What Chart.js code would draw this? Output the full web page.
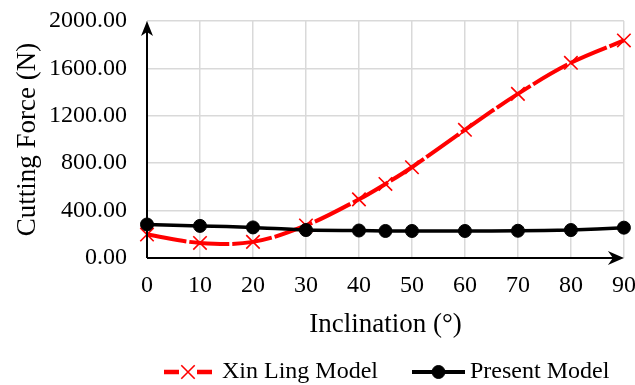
<!DOCTYPE html>
<html>
<head>
<meta charset="utf-8">
<script src="https://cdn.jsdelivr.net/npm/chart.js@4"></script>
<style>
  html, body { margin: 0; padding: 0; background: #ffffff; }
  #wrap { width: 635px; height: 385px; position: relative; }
</style>
</head>
<body>
<div id="wrap"><canvas id="chart"></canvas></div>
<script>
// inclination angles (deg) and cutting force (N)
const inclination = [0, 10, 20, 30, 40, 45, 50, 60, 70, 80, 90];
const xinLingForce = [198, 127, 136, 275, 495, 625, 766, 1082, 1385, 1647, 1836];
const presentForce = [283, 271, 258, 236, 232, 228, 228, 228, 230, 236, 256];

const xTicks = [0, 10, 20, 30, 40, 50, 60, 70, 80, 90];
const yTicks = [0, 400, 800, 1200, 1600, 2000];

const FONT = "'Liberation Serif', 'Times New Roman', serif";

const toPoints = (xs, ys) => xs.map((x, i) => ({ x: x, y: ys[i] }));

// black axis lines with arrow heads at the ends
const arrowAxes = {
  id: 'arrowAxes',
  afterDatasetsDraw(chart) {
    const { ctx, chartArea: a } = chart;
    const x0 = chart.scales.x.getPixelForValue(xTicks[0]);
    const y0 = chart.scales.y.getPixelForValue(yTicks[0]);
    ctx.save();
    ctx.strokeStyle = '#000';
    ctx.fillStyle = '#000';
    ctx.lineWidth = 2;
    ctx.beginPath();
    ctx.moveTo(x0, y0);
    ctx.lineTo(x0, a.top + 8);
    ctx.moveTo(x0, y0);
    ctx.lineTo(a.right - 8, y0);
    ctx.stroke();
    // up arrow
    ctx.beginPath();
    ctx.moveTo(x0, a.top);
    ctx.lineTo(x0 + 6, a.top + 15);
    ctx.lineTo(x0, a.top + 11);
    ctx.lineTo(x0 - 6, a.top + 15);
    ctx.closePath();
    ctx.fill();
    // right arrow
    ctx.beginPath();
    ctx.moveTo(a.right, y0);
    ctx.lineTo(a.right - 16, y0 - 7);
    ctx.lineTo(a.right - 11, y0);
    ctx.lineTo(a.right - 16, y0 + 7);
    ctx.closePath();
    ctx.fill();
    ctx.restore();
  }
};

// legend under the chart: line sample with marker, then the label
const lineLegend = {
  id: 'lineLegend',
  afterDraw(chart) {
    const { ctx } = chart;
    const y = 372;
    const items = [
      { x: 164, w: 48, tx: 222 },
      { x: 412, w: 53, tx: 470 }
    ];
    ctx.save();
    chart.data.datasets.forEach((ds, i) => {
      const it = items[i];
      const cx = it.x + it.w / 2;
      ctx.strokeStyle = ds.borderColor;
      ctx.fillStyle = ds.pointBackgroundColor;
      ctx.lineWidth = ds.borderWidth + 0.5;
      ctx.beginPath();
      if (ds.pointStyle === 'crossRot') {
        ctx.moveTo(it.x, y);
        ctx.lineTo(cx - 9, y);
        ctx.moveTo(cx + 9, y);
        ctx.lineTo(it.x + it.w, y);
      } else {
        ctx.moveTo(it.x, y);
        ctx.lineTo(it.x + it.w, y);
      }
      ctx.stroke();
      ctx.lineWidth = ds.pointBorderWidth;
      Chart.helpers.drawPoint(ctx, {
        pointStyle: ds.pointStyle,
        radius: ds.pointRadius,
        borderWidth: ds.pointBorderWidth
      }, cx, y);
      ctx.fillStyle = '#000';
      ctx.font = '24px ' + FONT;
      ctx.textBaseline = 'middle';
      ctx.textAlign = 'left';
      ctx.fillText(ds.label, it.tx, y);
    });
    ctx.restore();
  }
};

const ctx = document.getElementById('chart').getContext('2d');
new Chart(ctx, {
  type: 'line',
  data: {
    datasets: [
      {
        label: 'Xin Ling Model',
        data: toPoints(inclination, xinLingForce),
        borderColor: '#ff0000',
        backgroundColor: '#ff0000',
        borderWidth: 4,
        borderDash: [40, 3],
        tension: 0.35,
        pointStyle: 'crossRot',
        pointRadius: 9.5,
        pointBorderWidth: 1.6,
        pointBorderColor: '#ff0000',
        pointBackgroundColor: '#ff0000',
        clip: false,
        order: 1
      },
      {
        label: 'Present Model',
        data: toPoints(inclination, presentForce),
        borderColor: '#000000',
        backgroundColor: '#000000',
        borderWidth: 3.5,
        tension: 0.2,
        pointStyle: 'circle',
        pointRadius: 6.5,
        pointBorderWidth: 1,
        pointBorderColor: '#000000',
        pointBackgroundColor: '#000000',
        clip: false,
        order: 0
      }
    ]
  },
  options: {
    responsive: true,
    maintainAspectRatio: false,
    animation: false,
    layout: { padding: { left: 0, right: 10, top: 21, bottom: 40 } },
    plugins: {
      legend: { display: false },
      tooltip: { enabled: false }
    },
    scales: {
      x: {
        type: 'linear',
        min: 0,
        max: 90,
        afterBuildTicks: s => { s.ticks = xTicks.map(v => ({ value: v })); },
        afterFit: s => { s.height = 87; s.paddingLeft = 0; s.paddingRight = 0; },
        border: { display: false },
        grid: { color: '#d9d9d9', lineWidth: 1.5, drawTicks: false },
        ticks: {
          padding: 13,
          color: '#000',
          font: { family: FONT, size: 24 }
        },
        title: {
          display: true,
          text: 'Inclination (°)',
          color: '#000',
          font: { family: FONT, size: 27 },
          padding: { top: 0, bottom: 4 }
        }
      },
      y: {
        min: 0,
        max: 2000,
        afterBuildTicks: s => { s.ticks = yTicks.map(v => ({ value: v })); },
        afterFit: s => { s.width = 147; s.paddingTop = 0; s.paddingBottom = 0; },
        border: { display: false },
        grid: { color: '#d9d9d9', lineWidth: 1.5, drawTicks: false },
        ticks: {
          padding: 20,
          color: '#000',
          font: { family: FONT, size: 24 },
          callback: v => Number(v).toFixed(2)
        },
        title: {
          display: true,
          text: 'Cutting Force (N)',
          color: '#000',
          font: { family: FONT, size: 27 },
          padding: { top: 12, bottom: 0 }
        }
      }
    }
  },
  plugins: [arrowAxes, lineLegend]
});
</script>
</body>
</html>
